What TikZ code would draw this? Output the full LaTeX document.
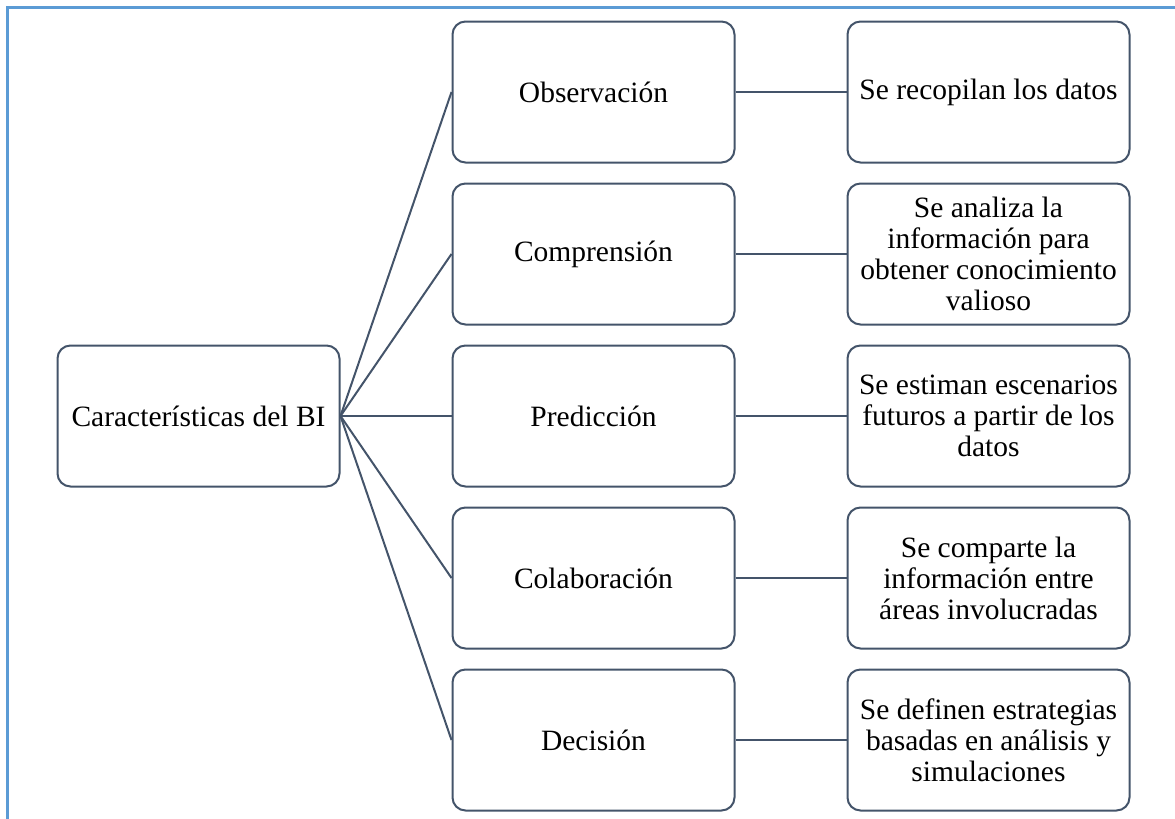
\documentclass[tikz,border=0pt]{standalone}
\usepackage{fontspec}
\setmainfont{Liberation Serif}
\usetikzlibrary{positioning}
\definecolor{marcoazul}{HTML}{5B9BD5}
\definecolor{lineagris}{HTML}{44546A}

\begin{document}
\begin{tikzpicture}[x=1pt, y=1pt,
	caja/.style={draw=lineagris, line width=2pt, rounded corners=13pt, minimum width=282pt, minimum height=141pt, align=center, inner sep=4pt, font=\fontsize{29.5}{31}\selectfont},
	enlace/.style={draw=lineagris, line width=2pt}]
	\useasboundingbox (0,0) rectangle (1175,-819);
	\draw[marcoazul, line width=2.5pt] (7.5,-819) -- (7.5,-7.5) -- (1175,-7.5);
	% columna central
	\node[caja] (bi) at (198.5,-416) {Características del BI};
	\node[caja, right=111pt of bi] (pred) {Predicción};
	\node[caja, above=19pt of pred] (comp) {Comprensión};
	\node[caja, above=19pt of comp] (obs) {Observación};
	\node[caja, below=19pt of pred] (colab) {Colaboración};
	\node[caja, below=19pt of colab] (dec) {Decisión};
	% descripciones
	\node[caja, right=111pt of obs] (obsd) {Se recopilan los datos};
	\node[caja, right=111pt of comp] (compd) {Se analiza la\\información para\\obtener conocimiento\\valioso};
	\node[caja, right=111pt of pred] (predd) {Se estiman escenarios\\futuros a partir de los\\datos};
	\node[caja, right=111pt of colab] (colabd) {Se comparte la\\información entre\\áreas involucradas};
	\node[caja, right=111pt of dec] (decd) {Se definen estrategias\\basadas en análisis y\\simulaciones};
	\foreach \n/\d in {obs/obsd, comp/compd, pred/predd, colab/colabd, dec/decd} {
		\draw[enlace] (bi.east) -- (\n.west);
		\draw[enlace] (\n.east) -- (\d.west);
	}
\end{tikzpicture}
\end{document}
